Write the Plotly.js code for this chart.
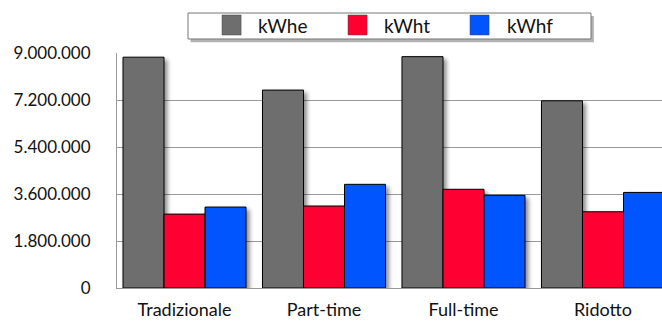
<!DOCTYPE html>
<html>
<head>
<meta charset="utf-8">
<script src="https://cdn.plot.ly/plotly-3.0.1.min.js"></script>
<style>
html,body{margin:0;padding:0;background:#fff;}
#chart{width:662px;height:322px;}
.barlayer .point path{filter:url(#barshadow);}
</style>
</head>
<body>
<svg width="0" height="0" style="position:absolute">
  <defs>
    <filter id="barshadow" x="-20%" y="-20%" width="160%" height="160%">
      <feDropShadow dx="3" dy="3" stdDeviation="2" flood-color="#000" flood-opacity="0.45"/>
    </filter>
  </defs>
</svg>
<div id="chart"></div>
<script>
// ---- data ----
const categories = ["Tradizionale", "Part-time", "Full-time", "Ridotto"];
const seriesNames = ["kWhe", "kWht", "kWhf"];
const kWhe = [8840000, 7580000, 8860000, 7170000];
const kWht = [2830000, 3140000, 3780000, 2920000];
const kWhf = [3100000, 3970000, 3550000, 3660000];
const yTickVals = [0, 1800000, 3600000, 5400000, 7200000, 9000000];
const yTickText = ["0", "1.800.000", "3.600.000", "5.400.000", "7.200.000", "9.000.000"];
const colors = ["#6e6e6e", "#ff0030", "#0055ff"];

const seriesValues = [kWhe, kWht, kWhf];
const traces = seriesValues.map((vals, i) => ({
  type: "bar",
  name: seriesNames[i],
  x: categories,
  y: vals,
  marker: {color: colors[i], line: {color: "#000", width: 1}},
  showlegend: false,
  hoverinfo: "skip"
}));

// custom legend (box, shadow, swatches, labels) in paper coords
const fontFam = "Lato, 'Open Sans', sans-serif";
const shapes = [
  {type: "rect", xref: "paper", yref: "paper", x0: 0.1350, x1: 0.8750, y0: 1.0460, y1: 1.1570,
   fillcolor: "rgba(0,0,0,0.3)", line: {width: 0}, layer: "above"},
  {type: "rect", xref: "paper", yref: "paper", x0: 0.1303, x1: 0.8697, y0: 1.0596, y1: 1.1702,
   fillcolor: "#fff", line: {color: "#777", width: 1}, layer: "above"}
];
const swatchX = [0.1927, 0.4239, 0.6477];
const labelX = [0.2550, 0.4862, 0.7119];
const annotations = [];
seriesNames.forEach((n, i) => {
  shapes.push({type: "rect", xref: "paper", yref: "paper",
    x0: swatchX[i], x1: swatchX[i] + 0.0350, y0: 1.0766, y1: 1.1617,
    fillcolor: colors[i], line: {color: "#444", width: 0.5}, layer: "above"});
  annotations.push({xref: "paper", yref: "paper", x: labelX[i], y: 1.1170,
    xanchor: "left", yanchor: "middle", showarrow: false, text: n,
    font: {family: fontFam, size: 19, color: "#111"}});
});

const layout = {
  width: 662, height: 322,
  margin: {l: 117, r: 0, t: 53, b: 34, pad: 0},
  paper_bgcolor: "#fff", plot_bgcolor: "#fff",
  barmode: "group", bargap: 0.118, bargroupgap: 0,
  showlegend: false,
  font: {family: fontFam, size: 16, color: "#111"},
  xaxis: {
    type: "category", range: [-0.484, 3.423], fixedrange: true,
    showline: true, linecolor: "#999", linewidth: 1,
    showgrid: false, ticks: "", ticklabelstandoff: 5,
    tickfont: {family: fontFam, size: 18, color: "#111"}
  },
  yaxis: {
    range: [0, 9000000], fixedrange: true,
    tickvals: yTickVals, ticktext: yTickText,
    showline: true, linecolor: "#999", linewidth: 1,
    showgrid: true, gridcolor: "#999", gridwidth: 1,
    zeroline: false, ticks: "", ticklabelstandoff: 22,
    tickfont: {family: fontFam, size: 17, color: "#111"}
  },
  shapes: shapes,
  annotations: annotations
};

Plotly.newPlot("chart", traces, layout, {displayModeBar: false, staticPlot: true});
</script>
</body>
</html>
